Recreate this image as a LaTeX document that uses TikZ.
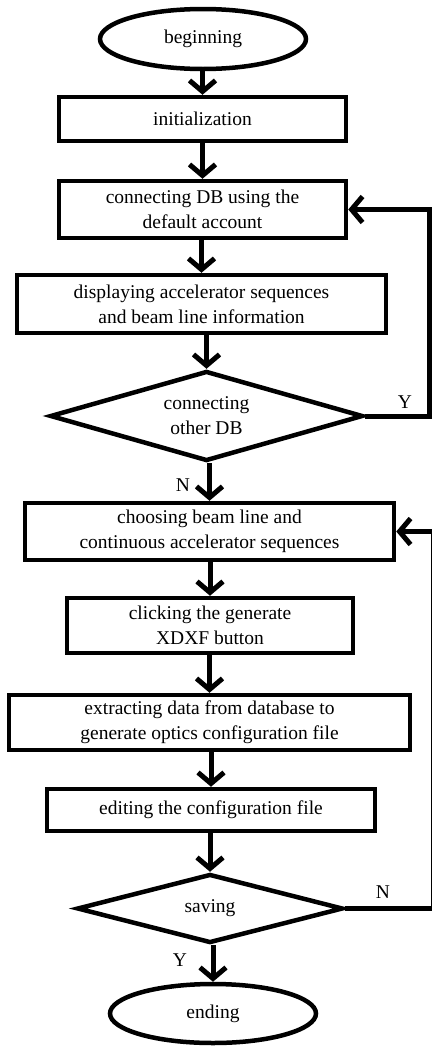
\documentclass[tikz,border=0pt]{standalone}
\usepackage{fontspec}
\setmainfont{Liberation Serif}
\usetikzlibrary{shapes.geometric,arrows.meta}
\begin{document}
\begin{tikzpicture}[x=1pt,y=-1pt,
 every node/.style={font=\fontsize{19.5}{25}\selectfont},
 box/.style={draw,line width=4.5pt,rectangle,inner sep=0pt,align=center,fill=white},
 term/.style={draw,line width=4.5pt,ellipse,inner sep=0pt,fill=white},
 dec/.style={draw,line width=4.5pt,diamond,aspect=3.5,inner sep=0pt,align=center,fill=white},
 flow/.style={line width=5pt,-{Straight Barb[length=11pt,width=26pt]}},
 link/.style={line width=5pt},
 thinlink/.style={line width=1.5pt},
 lbl/.style={inner sep=0pt}]
\fill[white] (0,0) rectangle (432,1047);
\useasboundingbox (0,0) rectangle (432,1047);
\clip (0,0) rectangle (432,1047);
\node[term,minimum width=206pt,minimum height=60pt] (b) at (203,39) {beginning};
\node[box,minimum width=287pt,minimum height=44pt] (i) at (202.5,119) {initialization};
\node[box,minimum width=287pt,minimum height=57pt] (c) at (202.5,209.5) {connecting DB using the\\default account};
\node[box,minimum width=369pt,minimum height=58pt] (d) at (201.5,304) {displaying accelerator sequences\\and beam line information};
\node[dec,minimum width=313pt,minimum height=90pt] (q1) at (206.5,416) {connecting\\other DB};
\node[box,minimum width=369pt,minimum height=57pt] (ch) at (209.5,531.5) {choosing beam line and\\continuous accelerator sequences};
\node[box,minimum width=286pt,minimum height=55pt] (cl) at (210,625.5) {clicking the generate\\XDXF button};
\node[box,minimum width=401pt,minimum height=55pt] (ex) at (209.5,722.5) {extracting data from database to\\generate optics configuration file};
\node[box,minimum width=328pt,minimum height=42pt] (ed) at (211,810) {editing the configuration file};
\node[dec,minimum width=266pt,minimum height=69pt] (q2) at (210,908.5) {saving};
\node[term,minimum width=206pt,minimum height=59pt] (e) at (213,1013.5) {ending};
\draw[flow] (i.north |- b.south) -- (i.north);
\draw[flow] (c.north |- i.south) -- (c.north);
\draw[flow] (d.north |- c.south) -- (d.north);
\draw[flow] (q1.north |- d.south) -- (q1.north);
\draw[flow] (ch.north |- q1.south) -- (ch.north);
\draw[flow] (cl.north |- ch.south) -- (cl.north);
\draw[flow] (ex.north |- cl.south) -- (ex.north);
\draw[flow] (ed.north |- ex.south) -- (ed.north);
\draw[flow] (q2.north |- ed.south) -- (q2.north);
\draw[flow] (e.north |- q2.south) -- (e.north);
\coordinate (r1) at (429.5,209.5);
\draw[flow] (q1.east) -| (r1) -- (c.east);
\coordinate (r2b) at (431.5,908.5);
\coordinate (r2t) at (431.5,531.5);
\draw[link] (q2.east) -- (r2b);
\draw[thinlink] (r2b) -- (r2t);
\draw[flow] (r2t) -- (ch.east);
\node[lbl] (y1) at (405,402) {Y};
\node[lbl] (n1) at (183,485) {N};
\node[lbl] (n2) at (383,892) {N};
\node[lbl] (y2) at (180,960) {Y};
\end{tikzpicture}
\end{document}
